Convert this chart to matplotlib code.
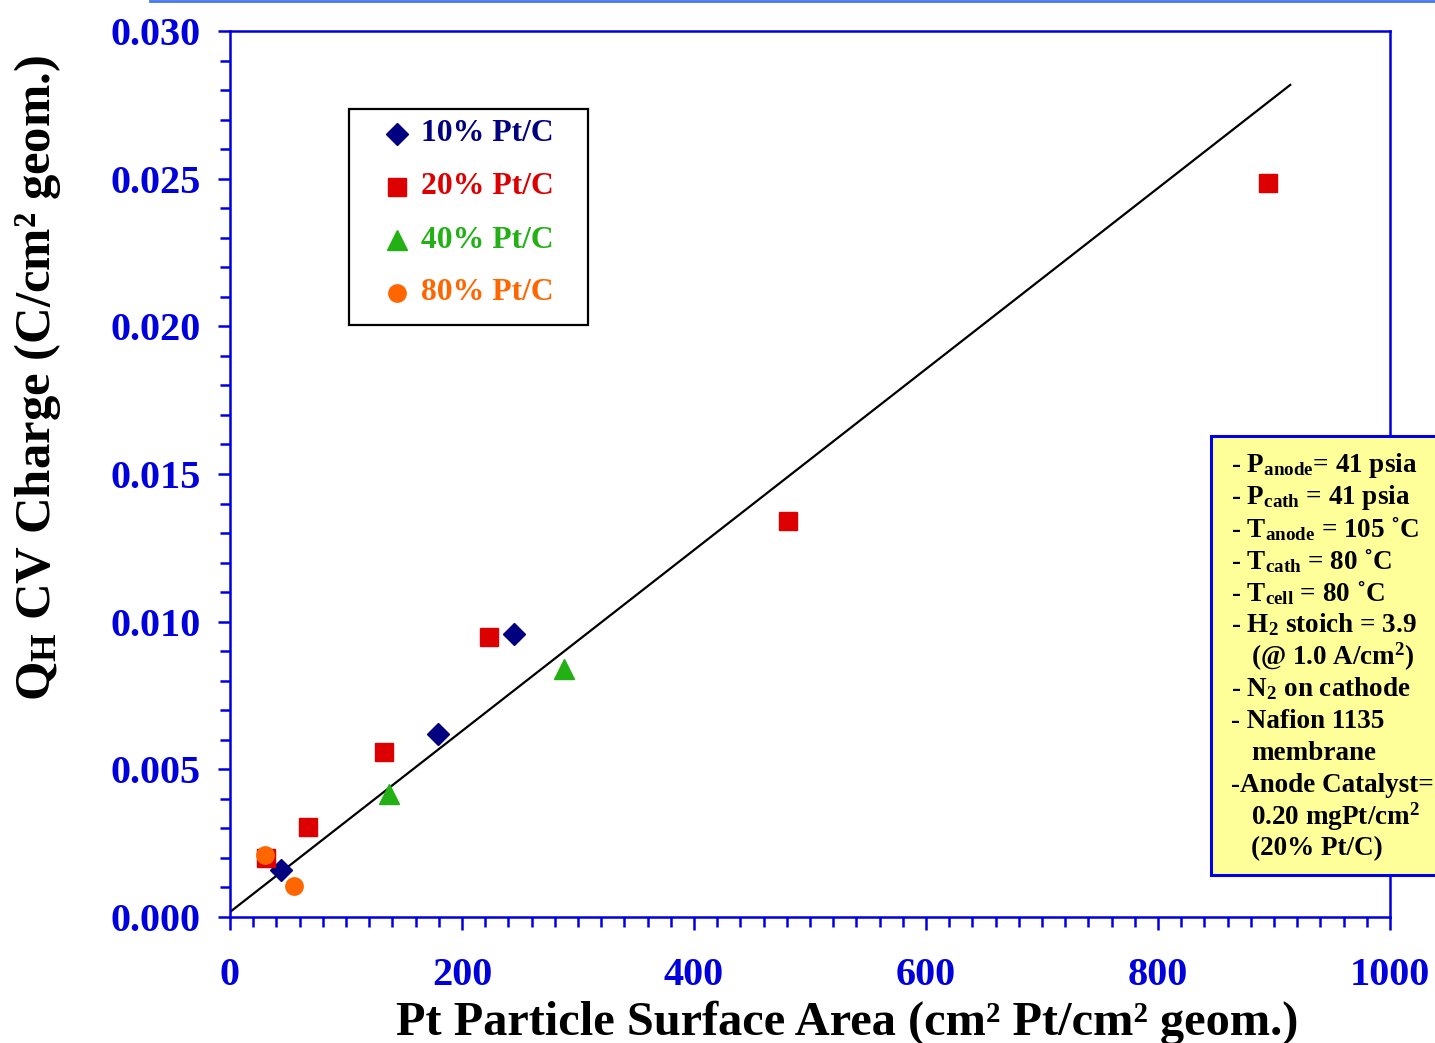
import numpy as np
import matplotlib.pyplot as plt
from matplotlib.ticker import MultipleLocator, FormatStrFormatter
from matplotlib.lines import Line2D
from matplotlib.patches import Rectangle

plt.rcParams['font.family'] = ['Liberation Serif', 'DejaVu Serif']
plt.rcParams['font.weight'] = 'bold'
plt.rcParams['mathtext.fontset'] = 'custom'
plt.rcParams['mathtext.rm'] = 'Liberation Serif:bold'
plt.rcParams['mathtext.it'] = 'Liberation Serif:bold'
plt.rcParams['mathtext.bf'] = 'Liberation Serif:bold'

# Pt particle surface area (cm2 Pt/cm2 geom) vs. H-adsorption CV charge (C/cm2 geom)
pt10_area = [44, 179, 245]
pt10_q = [0.00159, 0.00620, 0.00958]
pt20_area = [31, 67, 133, 223, 481, 895]
pt20_q = [0.00200, 0.00305, 0.00559, 0.00948, 0.01341, 0.02485]
pt40_area = [137, 288]
pt40_q = [0.00415, 0.00840]
pt80_area = [30, 55]
pt80_q = [0.00210, 0.00105]

# linear fit line
fit_slope = 3.064e-5
fit_icpt = 0.00017
fit_x = [0, 914]

series_labels = ['10% Pt/C', '20% Pt/C', '40% Pt/C', '80% Pt/C']
series_colors = ['#000080', '#DD0000', '#22B014', '#FF6600']
series_markers = ['D', 's', '^', 'o']
series_sizes = [11.5, 13, 15, 12.5]

conditions = [
    ('- P$_{\\rm anode}$= 41 psia', 0),
    ('- P$_{\\rm cath}$ = 41 psia', 0),
    ('- T$_{\\rm anode}$ = 105 ˚C', 0),
    ('- T$_{\\rm cath}$ = 80 ˚C', 0),
    ('- T$_{\\rm cell}$ = 80 ˚C', 0),
    ('- H$_2$ stoich = 3.9', 0),
    ('(@ 1.0 A/cm$^2$)', 1),
    ('- N$_2$ on cathode', 0),
    ('- Nafion 1135', 0),
    ('membrane', 1),
    ('-Anode Catalyst=', 0),
    ('0.20 mgPt/cm$^2$', 1),
    ('(20% Pt/C)', 1),
]

W, H = 1435, 1043
fig = plt.figure(figsize=(W / 100, H / 100), dpi=100)
ax = fig.add_axes([230 / W, 1 - 917 / H, 1160 / W, 886 / H])


def fx_(px):
    return px / W


def fy_(py):
    return 1 - py / H


blue = '#0000DD'
xs = [pt10_area, pt20_area, pt40_area, pt80_area]
ys = [pt10_q, pt20_q, pt40_q, pt80_q]

fx = np.array(fit_x, dtype=float)
ax.plot(fx, fit_slope * fx + fit_icpt, color='black', lw=1.6, zorder=2)

for x, y, lab, c, m, s in zip(xs, ys, series_labels, series_colors, series_markers, series_sizes):
    ax.plot(x, y, ls='none', marker=m, ms=s, color=c, mec=c, label=lab, zorder=3)

ax.set_xlim(0, 1000)
ax.set_ylim(0, 0.030)
ax.xaxis.set_major_locator(MultipleLocator(200))
ax.xaxis.set_minor_locator(MultipleLocator(20))
ax.yaxis.set_major_locator(MultipleLocator(0.005))
ax.yaxis.set_minor_locator(MultipleLocator(0.001))
ax.yaxis.set_major_formatter(FormatStrFormatter('%.3f'))

for sp in ax.spines.values():
    sp.set_color(blue)
    sp.set_linewidth(1.8)
ax.tick_params(which='both', direction='out', color=blue, width=1.8,
               labelcolor=blue, labelsize=29)
ax.tick_params(which='major', length=9)
ax.tick_params(which='minor', length=7)
ax.tick_params(axis='y', which='major', pad=12)
ax.tick_params(axis='x', which='major', pad=20)
for t in ax.get_xticklabels() + ax.get_yticklabels():
    t.set_fontweight('bold')

ax.set_xlabel('Pt Particle Surface Area (cm² Pt/cm² geom.)', fontsize=34.8,
              fontweight='bold')
ax.xaxis.set_label_coords(fx_(847), fy_(1023), transform=fig.transFigure)
ax.xaxis.label.set_va('center')
ax.set_ylabel('Q$_{\\rm H}$ CV Charge (C/cm² geom.)', fontsize=36.5,
              fontweight='bold')
ax.yaxis.set_label_coords(fx_(38), fy_(378), transform=fig.transFigure)
ax.yaxis.label.set_va('center')

# legend box
fig.patches.append(Rectangle((fx_(349), fy_(325)), 239 / W, 216 / H,
                             transform=fig.transFigure, facecolor='white',
                             edgecolor='black', lw=1.6, zorder=4))
row_y = [134, 187, 240, 293]
for ry, lab, c, m, s in zip(row_y, series_labels, series_colors, series_markers, series_sizes):
    fig.add_artist(Line2D([fx_(397)], [fy_(ry)], transform=fig.transFigure, ls='none',
                          marker=m, ms=s, color=c, mec=c, zorder=5))
    fig.text(fx_(421), fy_(ry), lab, fontsize=22.8, fontweight='bold', color=c,
             va='center', ha='left', zorder=5)

# operating conditions box
fig.patches.append(Rectangle((fx_(1211), fy_(875)), 240 / W, 439 / H,
                             transform=fig.transFigure, facecolor='#FFFF99',
                             edgecolor='#0000EE', lw=2.2, zorder=5))
for i, (txt, indent) in enumerate(conditions):
    fig.text(fx_(1231 + 20 * indent), fy_(465 + 32 * i), txt, fontsize=19.5,
             fontweight='bold', color='black', va='center', ha='left', zorder=6)

# thin rule across the top
fig.add_artist(Line2D([fx_(150), 1.0], [fy_(1), fy_(1)], transform=fig.transFigure,
                      color='#4477EE', lw=2))

fig.savefig('out.png', dpi=100)
